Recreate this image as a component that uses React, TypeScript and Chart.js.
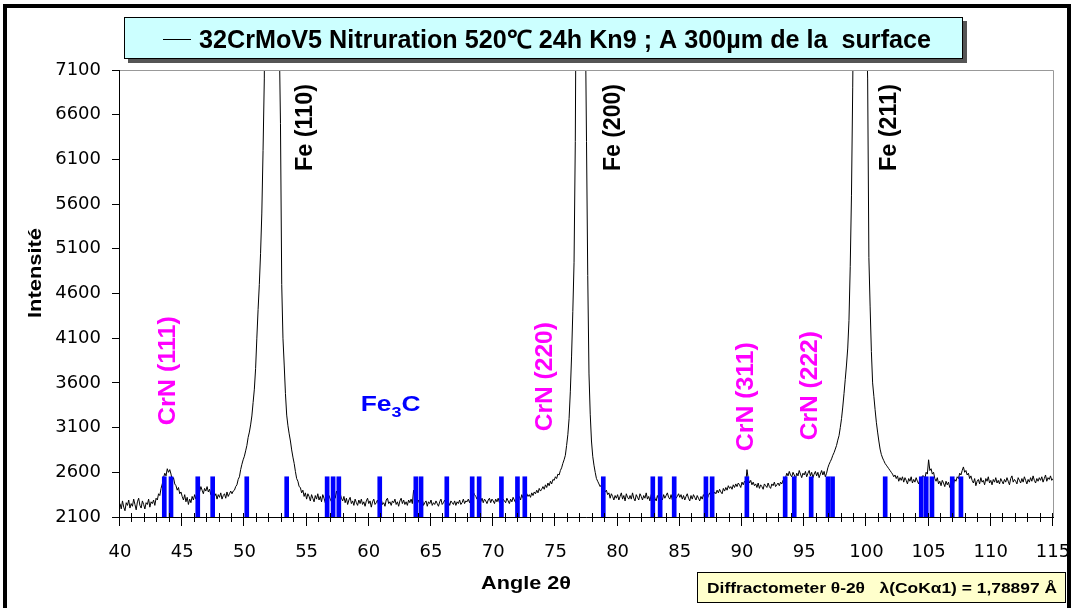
import React, { useEffect, useRef } from 'react';
import { Chart, registerables } from 'chart.js';

Chart.register(...registerables);

// ---- scan (2θ grid, 0.1° step) ----
const SCAN_START = 40;
const SCAN_STEP = 0.1;

// Intensity, one row per degree (x.0 … x.9)
const intensity: number[] = [
  // 40
  2250, 2190, 2280, 2210, 2170, 2260, 2230, 2290, 2200, 2250,
  // 41
  2220, 2300, 2240, 2180, 2270, 2310, 2230, 2200, 2280, 2240,
  // 42
  2190, 2260, 2240, 2300, 2210, 2270, 2250, 2290, 2230, 2310,
  // 43
  2290, 2360, 2340, 2420, 2470, 2540, 2590, 2560, 2640, 2600,
  // 44
  2630, 2580, 2510, 2540, 2470, 2450, 2400, 2430, 2360, 2380,
  // 45
  2330, 2290, 2350, 2270, 2320, 2240, 2300, 2260, 2330, 2290,
  // 46
  2350, 2300, 2390, 2430, 2380, 2440, 2400, 2360, 2420, 2390,
  // 47
  2440, 2380, 2410, 2350, 2420, 2370, 2330, 2360, 2300, 2350,
  // 48
  2320, 2370, 2300, 2340, 2360, 2310, 2380, 2330, 2360, 2390,
  // 49
  2360, 2390, 2400, 2440, 2460, 2520, 2550, 2630, 2690, 2740,
  // 50
  2780, 2840, 2900, 2990, 3050, 3130, 3230, 3380, 3530, 3760,
  // 51
  4100, 4420, 4700, 5050, 5500, 6200, 7000, 9500, 14000, 20000,
  // 52
  25000, 28000, 28000, 25000, 19000, 14000, 10500, 8600, 7500, 6500,
  // 53
  4700, 4100, 3800, 3480, 3240, 3120, 3030, 2950, 2850, 2770,
  // 54
  2700, 2610, 2530, 2500, 2440, 2430, 2370, 2400, 2330, 2370,
  // 55
  2300, 2360, 2330, 2280, 2350, 2310, 2270, 2340, 2300, 2360,
  // 56
  2290, 2330, 2270, 2350, 2310, 2260, 2320, 2280, 2340, 2300,
  // 57
  2270, 2330, 2350, 2310, 2390, 2340, 2410, 2360, 2310, 2280,
  // 58
  2330, 2260, 2310, 2240, 2290, 2320, 2250, 2280, 2230, 2300,
  // 59
  2260, 2230, 2290, 2250, 2300, 2240, 2270, 2220, 2280, 2310,
  // 60
  2250, 2280, 2210, 2270, 2300, 2240, 2260, 2290, 2230, 2270,
  // 61
  2300, 2240, 2260, 2220, 2290, 2310, 2250, 2270, 2230, 2280,
  // 62
  2260, 2300, 2240, 2270, 2220, 2280, 2310, 2250, 2290, 2240,
  // 63
  2270, 2230, 2290, 2260, 2300, 2250, 2400, 2330, 2280, 2250,
  // 64
  2290, 2240, 2270, 2300, 2230, 2260, 2280, 2220, 2270, 2250,
  // 65
  2290, 2230, 2260, 2240, 2280, 2250, 2220, 2270, 2300, 2240,
  // 66
  2260, 2290, 2250, 2310, 2270, 2230, 2280, 2260, 2240, 2280,
  // 67
  2230, 2270, 2250, 2290, 2240, 2260, 2300, 2250, 2280, 2270,
  // 68
  2300, 2260, 2310, 2290, 2380, 2350, 2330, 2300, 2340, 2290,
  // 69
  2270, 2310, 2260, 2300, 2280, 2250, 2290, 2310, 2260, 2300,
  // 70
  2280, 2250, 2300, 2270, 2310, 2260, 2290, 2250, 2300, 2280,
  // 71
  2260, 2310, 2280, 2250, 2300, 2270, 2320, 2290, 2260, 2310,
  // 72
  2300, 2330, 2290, 2350, 2310, 2340, 2300, 2360, 2330, 2350,
  // 73
  2320, 2370, 2340, 2380, 2360, 2400, 2370, 2420, 2390, 2410,
  // 74
  2440, 2410, 2460, 2430, 2480, 2450, 2500, 2470, 2520, 2510,
  // 75
  2550, 2530, 2580, 2570, 2620, 2650, 2700, 2740, 2790, 2900,
  // 76
  3020, 3200, 3500, 3900, 4400, 4950, 6300, 9000, 16000, 24000,
  // 77
  26000, 20000, 13000, 9500, 7800, 6300, 4800, 3700, 3250, 2950,
  // 78
  2780, 2680, 2600, 2530, 2500, 2470, 2440, 2460, 2410, 2430,
  // 79
  2380, 2400, 2350, 2370, 2310, 2360, 2330, 2290, 2340, 2310,
  // 80
  2350, 2290, 2330, 2370, 2300, 2340, 2280, 2360, 2320, 2300,
  // 81
  2340, 2300, 2370, 2310, 2280, 2350, 2320, 2290, 2360, 2330,
  // 82
  2290, 2340, 2310, 2370, 2300, 2330, 2280, 2350, 2320, 2360,
  // 83
  2310, 2280, 2340, 2300, 2370, 2330, 2290, 2350, 2310, 2340,
  // 84
  2370, 2320, 2300, 2350, 2290, 2340, 2380, 2310, 2330, 2360,
  // 85
  2320, 2350, 2300, 2340, 2290, 2330, 2360, 2310, 2280, 2340,
  // 86
  2300, 2350, 2320, 2290, 2340, 2310, 2280, 2330, 2300, 2350,
  // 87
  2320, 2360, 2300, 2340, 2370, 2330, 2390, 2350, 2380, 2360,
  // 88
  2400, 2370, 2410, 2380, 2360, 2420, 2390, 2430, 2400, 2450,
  // 89
  2420, 2440, 2410, 2460, 2430, 2470, 2440, 2480, 2460, 2430,
  // 90
  2490, 2460, 2500, 2480, 2630, 2530, 2480, 2510, 2460, 2490,
  // 91
  2450, 2470, 2430, 2480, 2420, 2460, 2440, 2410, 2470, 2450,
  // 92
  2430, 2480, 2440, 2420, 2470, 2450, 2490, 2440, 2460, 2480,
  // 93
  2450, 2490, 2470, 2510, 2450, 2540, 2590, 2560, 2610, 2570,
  // 94
  2550, 2600, 2570, 2530, 2590, 2560, 2620, 2580, 2540, 2590,
  // 95
  2570, 2610, 2550, 2590, 2620, 2560, 2600, 2540, 2580, 2610,
  // 96
  2560, 2600, 2540, 2580, 2620, 2570, 2610, 2550, 2590, 2650,
  // 97
  2690, 2720, 2750, 2790, 2820, 2860, 2900, 2960, 3010, 3100,
  // 98
  3200, 3330, 3480, 3640, 3800, 3990, 4300, 4900, 5700, 6900,
  // 99
  8500, 11000, 14000, 16000, 17000, 16000, 14000, 12000, 10000, 8500,
  // 100
  7700, 7000, 5000, 4450, 3950, 3600, 3450, 3300, 3160, 3050,
  // 101
  2950, 2860, 2800, 2760, 2730, 2700, 2680, 2660, 2640, 2620,
  // 102
  2600, 2580, 2550, 2570, 2530, 2560, 2500, 2540, 2510, 2550,
  // 103
  2490, 2540, 2510, 2470, 2530, 2500, 2550, 2480, 2520, 2490,
  // 104
  2540, 2500, 2470, 2530, 2510, 2560, 2560, 2530, 2600, 2580,
  // 105
  2740, 2620, 2640, 2580, 2600, 2530, 2500, 2540, 2470, 2500,
  // 106
  2450, 2510, 2480, 2440, 2500, 2460, 2490, 2430, 2480, 2510,
  // 107
  2470, 2520, 2500, 2550, 2530, 2590, 2570, 2620, 2660, 2600,
  // 108
  2620, 2570, 2590, 2530, 2560, 2510, 2480, 2530, 2450, 2500,
  // 109
  2520, 2470, 2540, 2490, 2510, 2460, 2530, 2500, 2550, 2480,
  // 110
  2510, 2460, 2520, 2490, 2540, 2480, 2510, 2470, 2530, 2500,
  // 111
  2470, 2520, 2490, 2540, 2500, 2460, 2530, 2560, 2490, 2520,
  // 112
  2500, 2470, 2540, 2510, 2480, 2530, 2490, 2550, 2510, 2470,
  // 113
  2520, 2490, 2540, 2500, 2560, 2510, 2480, 2530, 2500, 2540,
  // 114
  2510, 2550, 2490, 2530, 2570, 2500, 2540, 2520, 2560, 2510,
  // 115
  2530,
];

// Fe3C reference lines (2θ positions) and their drawn height
const fe3cAngles: number[] = [
  43.56, 44.10, 46.25, 47.45, 50.19, 53.40, 56.65, 57.13, 57.59,
  60.88, 63.78, 64.20, 66.27, 68.31, 68.87, 70.66, 71.95, 72.54,
  78.85, 82.83, 83.42, 84.55, 87.10, 87.60, 90.39, 93.47, 94.20,
  95.56, 96.91, 97.28, 101.51, 104.41, 104.81, 105.27, 106.90, 107.60,
];
const fe3cBase = 2100;
const fe3cTop = 2550;

// Axis ranges / ticks
const xMin = 40, xMax = 115, xMajor = 5, xMinor = 1;
const yMin = 2100, yMax = 7100, yStep = 500;

// Texts
const seriesName = '32CrMoV5 Nitruration 520\u2103 24h Kn9 ; A 300\u00b5m de la  surface';
const xTitle = 'Angle 2\u03b8';
const yTitle = 'Intensit\u00e9';
const noteText = 'Diffractometer \u03b8-2\u03b8   \u03bb(CoK\u03b11) = 1,78897 \u00c5';
const feLabels = ['Fe (110)', 'Fe (200)', 'Fe (211)'];
const crnLabels = ['CrN (111)', 'CrN (220)', 'CrN (311)', 'CrN (222)'];

// Annotation anchors (data coordinates), kept apart from the series
const annot = {
  feAngles: [54.96, 79.72, 101.83],
  feLevel: 6456,
  crnAngles: [43.86, 74.18, 90.34, 95.48],
  crnLevels: [3737, 3670, 3446, 3569],
  fe3cAngle: 59.35,
  fe3cLevel: 3290,
};

const SANS = '"Liberation Sans", Arial, sans-serif';

function fitText(ctx: CanvasRenderingContext2D, text: string, x: number, y: number, width: number, font: string, align: CanvasTextAlign, rotate = false) {
  ctx.save();
  ctx.font = font;
  const w = ctx.measureText(text).width;
  const s = width / w;
  ctx.translate(x, y);
  if (rotate) ctx.rotate(-Math.PI / 2);
  ctx.scale(s, 1);
  ctx.textAlign = align;
  ctx.fillText(text, 0, 0);
  ctx.restore();
}

const decorPlugin = {
  id: 'decor',
  afterDraw(chart: any) {
    const ctx: CanvasRenderingContext2D = chart.ctx;
    const xs = chart.scales.x;
    const ys = chart.scales.y;
    const a = chart.chartArea;
    ctx.save();

    // plot frame: grey top/right, black axes
    ctx.lineWidth = 1;
    ctx.strokeStyle = '#999999';
    ctx.beginPath();
    ctx.moveTo(a.left, a.top + 0.5);
    ctx.lineTo(a.right + 0.5, a.top + 0.5);
    ctx.lineTo(a.right + 0.5, a.bottom);
    ctx.stroke();
    ctx.strokeStyle = '#000';
    ctx.beginPath();
    ctx.moveTo(a.left - 0.5, a.top);
    ctx.lineTo(a.left - 0.5, a.bottom + 0.5);
    ctx.lineTo(a.right + 1, a.bottom + 0.5);
    ctx.stroke();

    // x ticks (cross style, major + minor)
    ctx.beginPath();
    for (let v = xMin; v <= xMax; v += xMinor) {
      const px = Math.round(xs.getPixelForValue(v)) - 0.5;
      const major = (v - xMin) % xMajor === 0;
      ctx.moveTo(px, a.bottom - 4);
      ctx.lineTo(px, a.bottom + (major ? 9 : 5));
    }
    ctx.stroke();

    // axis titles
    ctx.fillStyle = '#000';
    ctx.textBaseline = 'alphabetic';
    fitText(ctx, xTitle, 526, 589, 90, `bold 18px ${SANS}`, 'center');
    fitText(ctx, yTitle, 41, 273, 90, `bold 18px ${SANS}`, 'center', true);

    // peak labels
    ctx.textBaseline = 'middle';
    ctx.fillStyle = '#000';
    feLabels.forEach((t, i) => {
      fitText(ctx, t, xs.getPixelForValue(annot.feAngles[i]), ys.getPixelForValue(annot.feLevel), 87, `bold 23px ${SANS}`, 'center', true);
    });
    ctx.fillStyle = '#ff00ff';
    crnLabels.forEach((t, i) => {
      fitText(ctx, t, xs.getPixelForValue(annot.crnAngles[i]), ys.getPixelForValue(annot.crnLevels[i]), 109, `bold 24px ${SANS}`, 'center', true);
    });

    // Fe3C label with subscript
    ctx.fillStyle = '#0000ff';
    ctx.textBaseline = 'alphabetic';
    {
      const bx = xs.getPixelForValue(annot.fe3cAngle);
      const by = ys.getPixelForValue(annot.fe3cLevel);
      ctx.save();
      ctx.translate(bx, by);
      ctx.scale(1.2, 1);
      ctx.textAlign = 'left';
      ctx.font = `bold 22px ${SANS}`;
      ctx.fillText('Fe', 0, 0);
      let w = ctx.measureText('Fe').width;
      ctx.font = `bold 15px ${SANS}`;
      ctx.fillText('3', w, 6);
      w += ctx.measureText('3').width;
      ctx.font = `bold 22px ${SANS}`;
      ctx.fillText('C', w, 0);
      ctx.restore();
    }

    // legend / title box
    ctx.fillStyle = '#555555';
    ctx.fillRect(128, 21, 839, 42);
    ctx.fillStyle = '#ccffff';
    ctx.fillRect(124, 17, 839, 42);
    ctx.strokeStyle = '#000';
    ctx.lineWidth = 1;
    ctx.strokeRect(124.5, 17.5, 838, 41);
    ctx.beginPath();
    ctx.moveTo(163, 39.5);
    ctx.lineTo(191, 39.5);
    ctx.stroke();
    ctx.fillStyle = '#000';
    fitText(ctx, seriesName, 199, 48, 732, `bold 25px ${SANS}`, 'left');

    // note box
    ctx.fillStyle = '#ffffcc';
    ctx.fillRect(697, 572, 369, 31);
    ctx.strokeRect(697.5, 572.5, 368, 30);
    ctx.fillStyle = '#000';
    fitText(ctx, noteText, 707, 593, 350, `bold 14px ${SANS}`, 'left');

    // outer black frame
    ctx.fillStyle = '#000';
    ctx.fillRect(3, 4, 4, 604);
    ctx.fillRect(3, 4, 1068, 4);
    ctx.fillRect(1067, 4, 4, 604);

    ctx.restore();
  },
};

export default function App() {
  const ref = useRef<HTMLCanvasElement | null>(null);

  useEffect(() => {
    if (!ref.current) return;
    const points = intensity.map((v, i) => ({ x: Math.round((SCAN_START + i * SCAN_STEP) * 10) / 10, y: v }));
    const bars = fe3cAngles.map((ang) => ({ x: ang, y: [fe3cBase, fe3cTop] }));
    const chart = new Chart(ref.current, {
      type: 'line',
      data: {
        datasets: [
          {
            type: 'bar',
            label: 'Fe3C',
            data: bars as any,
            backgroundColor: '#0000ff',
            borderWidth: 0,
            barThickness: 4,
            grouped: false,
            order: 0,
          } as any,
          {
            type: 'line',
            label: seriesName,
            data: points,
            borderColor: '#000000',
            borderWidth: 1,
            pointRadius: 0,
            tension: 0,
            fill: false,
            order: 1,
          },
        ],
      },
      options: {
        animation: false,
        responsive: false,
        devicePixelRatio: 1,
        events: [],
        layout: { padding: { top: 70, right: 21, left: 0, bottom: 0 } },
        plugins: { legend: { display: false }, tooltip: { enabled: false }, title: { display: false } },
        scales: {
          x: {
            type: 'linear',
            offset: false,
            min: xMin,
            max: xMax,
            ticks: { stepSize: xMajor, color: '#000', font: { family: '"DejaVu Sans"', size: 18 }, padding: 0, maxRotation: 0, autoSkip: false },
            grid: { display: false, drawTicks: true, tickLength: 25, offset: false },
            border: { display: false },
            afterFit: (s: any) => { s.height = 91; },
          },
          y: {
            type: 'linear',
            min: yMin,
            max: yMax,
            ticks: { stepSize: yStep, color: '#000', font: { family: '"DejaVu Sans"', size: 18 }, padding: 11, callback: (v: any) => String(v) },
            grid: { drawOnChartArea: false, drawTicks: true, tickLength: 8, color: '#000' },
            border: { display: false },
            afterFit: (s: any) => { s.width = 120; },
          },
        },
      } as any,
      plugins: [decorPlugin],
    });
    return () => chart.destroy();
  }, []);

  return (
    <div style={{ position: 'fixed', left: 0, top: 0, width: 1074, height: 608, background: '#fff' }}>
      <canvas ref={ref} width={1074} height={608} style={{ display: 'block' }} />
    </div>
  );
}
